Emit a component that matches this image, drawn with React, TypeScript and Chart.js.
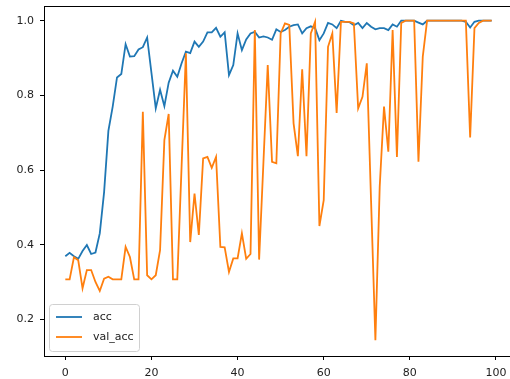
import React, { useEffect, useRef } from "react";
import { Chart, registerables } from "chart.js";

Chart.register(...registerables);

const epochs: number[] = Array.from({ length: 100 }, (_, i) => i);

const acc: number[] = [
  0.369, 0.378, 0.369, 0.362, 0.383, 0.399, 0.375, 0.379, 0.43, 0.54,
  0.705, 0.77, 0.848, 0.857, 0.937, 0.904, 0.905, 0.923, 0.929, 0.955,
  0.86, 0.765, 0.815, 0.771, 0.834, 0.866, 0.85, 0.886, 0.917, 0.913,
  0.944, 0.93, 0.944, 0.969, 0.969, 0.981, 0.957, 0.969, 0.854, 0.881,
  0.966, 0.921, 0.95, 0.966, 0.97, 0.955, 0.958, 0.955, 0.949, 0.977,
  0.97, 0.975, 0.984, 0.988, 0.99, 0.966, 0.98, 0.985, 0.98, 0.948,
  0.966, 0.994, 0.99, 0.98, 1.0, 0.997, 0.996, 0.988, 0.994, 0.98,
  0.994, 0.984, 0.977, 0.98, 0.98, 0.975, 0.99, 0.984, 1.0, 1.0,
  1.0, 1.0, 0.995, 0.99, 1.0, 1.0, 1.0, 1.0, 1.0, 1.0,
  1.0, 1.0, 1.0, 0.997, 0.982, 0.997, 1.0, 1.0, 1.0, 1.0,
];

const valAcc: number[] = [
  0.307, 0.307, 0.366, 0.358, 0.283, 0.332, 0.332, 0.3, 0.276, 0.309,
  0.314, 0.307, 0.307, 0.307, 0.394, 0.367, 0.307, 0.307, 0.756, 0.318,
  0.307, 0.318, 0.385, 0.68, 0.75, 0.307, 0.307, 0.61, 0.913, 0.407,
  0.537, 0.426, 0.631, 0.635, 0.606, 0.635, 0.394, 0.393, 0.327, 0.363,
  0.363, 0.43, 0.362, 0.375, 0.975, 0.36, 0.62, 0.881, 0.622, 0.618,
  0.966, 0.993, 0.989, 0.725, 0.637, 0.87, 0.637, 0.966, 0.997, 0.45,
  0.519, 0.93, 0.966, 0.753, 0.997, 0.997, 0.997, 0.993, 0.765, 0.796,
  0.886, 0.515, 0.144, 0.555, 0.77, 0.649, 0.975, 0.635, 0.994, 1.0,
  1.0, 1.0, 0.622, 0.904, 1.0, 1.0, 1.0, 1.0, 1.0, 1.0,
  1.0, 1.0, 1.0, 1.0, 0.687, 0.98, 0.994, 1.0, 1.0, 1.0,
];

const seriesLabels: string[] = ["acc", "val_acc"];
const seriesColors: string[] = ["#1f77b4", "#ff7f0e"];
const xTicks: number[] = [0, 20, 40, 60, 80, 100];
const yTicks: number[] = [0.2, 0.4, 0.6, 0.8, 1.0];

const FONT = "'DejaVu Sans', sans-serif";
const FONT_SIZE = 11;

const framePlugin = {
  id: "frame",
  afterDatasetsDraw(chart: any) {
    const { ctx, chartArea } = chart;
    ctx.save();
    ctx.strokeStyle = "#000";
    ctx.lineWidth = 1;
    ctx.strokeRect(
      Math.round(chartArea.left) + 0.5,
      Math.round(chartArea.top) + 0.5,
      Math.round(chartArea.right - chartArea.left),
      Math.round(chartArea.bottom - chartArea.top)
    );
    ctx.restore();
  },
};

const legendPlugin = {
  id: "mplLegend",
  afterDraw(chart: any) {
    const { ctx, chartArea } = chart;
    const w = 90;
    const h = 47;
    const x0 = Math.round(chartArea.left) + 5;
    const y0 = Math.round(chartArea.bottom) - 5 - h;
    ctx.save();
    ctx.beginPath();
    ctx.roundRect(x0 + 0.5, y0 + 0.5, w, h, 3);
    ctx.fillStyle = "rgba(255,255,255,0.8)";
    ctx.fill();
    ctx.strokeStyle = "#d0d0d0";
    ctx.lineWidth = 1;
    ctx.stroke();
    chart.data.datasets.forEach((ds: any, i: number) => {
      const y = y0 + 13 + i * 20;
      ctx.beginPath();
      ctx.moveTo(x0 + 7, y);
      ctx.lineTo(x0 + 33, y);
      ctx.strokeStyle = ds.borderColor;
      ctx.lineWidth = 1.8;
      ctx.stroke();
      ctx.fillStyle = "#222";
      ctx.font = `${FONT_SIZE}px ${FONT}`;
      ctx.textBaseline = "middle";
      ctx.textAlign = "left";
      ctx.fillText(ds.label, x0 + 44, y);
    });
    ctx.restore();
  },
};

export default function App() {
  const canvasRef = useRef<HTMLCanvasElement | null>(null);

  useEffect(() => {
    const canvas = canvasRef.current;
    if (!canvas) return;
    const series = [acc, valAcc];
    const chart = new Chart(canvas, {
      type: "line",
      data: {
        datasets: series.map((vals, si) => ({
          label: seriesLabels[si],
          data: epochs.map((e, i) => ({ x: e, y: vals[i] })),
          borderColor: seriesColors[si],
          backgroundColor: seriesColors[si],
          borderWidth: 1.8,
          pointRadius: 0,
          tension: 0,
          fill: false,
          order: si === 0 ? 1 : 0,
        })),
      },
      options: {
        animation: false,
        responsive: false,
        maintainAspectRatio: false,
        layout: { padding: { top: 6, right: 17, left: 0, bottom: 0 } },
        plugins: {
          legend: { display: false },
          tooltip: { enabled: false },
        },
        scales: {
          x: {
            type: "linear",
            min: -4.95,
            max: 103.95,
            afterBuildTicks: (s: any) => {
              s.ticks = xTicks.map((v) => ({ value: v }));
            },
            afterFit: (s: any) => {
              s.height = 23;
              s.paddingLeft = 0;
              s.paddingRight = 0;
              s.paddingTop = 0;
              s.paddingBottom = 0;
            },
            grid: {
              display: true,
              drawOnChartArea: false,
              drawTicks: true,
              tickLength: 4,
              tickColor: "#000",
            },
            border: { display: true, color: "#000", width: 1 },
            ticks: {
              color: "#222",
              font: { family: FONT, size: FONT_SIZE },
              padding: 7,
              maxRotation: 0,
              autoSkip: false,
              callback: (v: any) => String(v),
            },
          },
          y: {
            type: "linear",
            min: 0.1017,
            max: 1.0394,
            afterBuildTicks: (s: any) => {
              s.ticks = yTicks.map((v) => ({ value: v }));
            },
            afterFit: (s: any) => {
              s.width = 44;
              s.paddingLeft = 0;
              s.paddingRight = 0;
              s.paddingTop = 0;
              s.paddingBottom = 0;
            },
            grid: {
              display: true,
              drawOnChartArea: false,
              drawTicks: true,
              tickLength: 4,
              tickColor: "#000",
            },
            border: { display: true, color: "#000", width: 1 },
            ticks: {
              color: "#222",
              font: { family: FONT, size: FONT_SIZE },
              padding: 6,
              autoSkip: false,
              callback: (v: any) => Number(v).toFixed(1),
            },
          },
        },
      },
      plugins: [framePlugin, legendPlugin],
    });
    return () => chart.destroy();
  }, []);

  return (
    <div
      style={{
        position: "fixed",
        left: 0,
        top: 0,
        width: 510,
        height: 379,
        overflow: "hidden",
        background: "#fff",
      }}
    >
      <canvas
        ref={canvasRef}
        width={530}
        height={379}
        style={{ display: "block", width: 530, height: 379 }}
      />
    </div>
  );
}
